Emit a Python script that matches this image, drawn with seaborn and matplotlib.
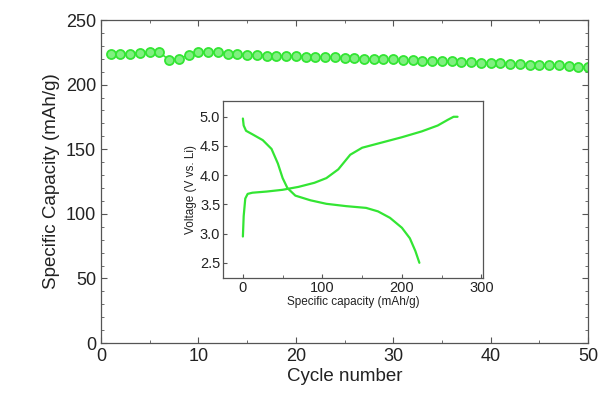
import numpy as np
import pandas as pd
import matplotlib
matplotlib.use("Agg")
import matplotlib.pyplot as plt
import seaborn as sns
from matplotlib.ticker import AutoMinorLocator

sns.set_theme(style="white")
plt.rcParams['font.family'] = ['Liberation Sans', 'DejaVu Sans']

cycles = list(range(1, 51))
capacity = [224, 224, 224, 224.5, 225, 225, 219, 220, 223, 225,
            225, 225, 224, 223.5, 223, 223, 222.5, 222.5, 222, 222,
            221.5, 221.5, 221, 221, 220.5, 220.5, 220, 220, 219.5, 219.5,
            219, 219, 218.5, 218.5, 218, 218, 217.5, 217.5, 217, 217,
            216.5, 216, 216, 215.5, 215.5, 215, 215, 214.5, 214, 213.5]

charge_cap = [0, 1, 3, 6, 12, 30, 50, 70, 90, 105, 120, 135, 150, 175, 200, 225, 245, 258, 265, 270]
charge_v = [2.95, 3.3, 3.6, 3.68, 3.7, 3.72, 3.75, 3.8, 3.87, 3.95, 4.1, 4.35, 4.47, 4.56, 4.65, 4.75, 4.85, 4.95, 5.0, 5.0]

dis_cap = [0, 1, 4, 12, 25, 36, 44, 50, 56, 66, 85, 105, 130, 155, 170, 185, 200, 210, 217, 222]
dis_v = [4.97, 4.85, 4.76, 4.7, 4.6, 4.45, 4.2, 3.95, 3.78, 3.65, 3.57, 3.51, 3.47, 3.44, 3.38, 3.27, 3.1, 2.92, 2.7, 2.5]

green = '#33e533'

fig = plt.figure(figsize=(6.07, 4.05), dpi=100)
ax = fig.add_axes([0.1664, 0.153, 0.8023, 0.7976])
df = pd.DataFrame({'cycle': cycles, 'cap': capacity})
sns.lineplot(data=df, x='cycle', y='cap', ax=ax, color=green, marker='o',
             markersize=6.5, markerfacecolor='#80f080', markeredgecolor=green,
             markeredgewidth=1.3, linewidth=1.2)
ax.set_xlim(0, 50)
ax.set_ylim(0, 250)
ax.set_xticks([0, 10, 20, 30, 40, 50])
ax.set_yticks([0, 50, 100, 150, 200, 250])
ax.xaxis.set_minor_locator(AutoMinorLocator(2))
ax.yaxis.set_minor_locator(AutoMinorLocator(5))
ax.tick_params(which='both', direction='in', bottom=True, left=True, top=True, right=True,
               color='#555555', labelsize=13, labelcolor='#222222')
ax.tick_params(which='major', length=4, width=0.8)
ax.tick_params(which='minor', length=2, width=0.6)
ax.set_xlabel('Cycle number', fontsize=13.5, color='#222222', labelpad=2)
ax.set_ylabel('Specific Capacity (mAh/g)', fontsize=13.5, color='#222222', labelpad=4)
for s in ax.spines.values():
    s.set_color('#555555')
    s.set_linewidth(0.9)

ins = fig.add_axes([0.3674, 0.3136, 0.4283, 0.437])
sns.lineplot(x=charge_cap, y=charge_v, ax=ins, color=green, linewidth=1.6, sort=False)
sns.lineplot(x=dis_cap, y=dis_v, ax=ins, color=green, linewidth=1.6, sort=False)
ins.set_xlim(-25, 302)
ins.set_ylim(2.24, 5.27)
ins.set_xticks([0, 100, 200, 300])
ins.set_yticks([2.5, 3.0, 3.5, 4.0, 4.5, 5.0])
ins.set_yticklabels(['2.5', '3.0', '3.5', '4.0', '4.5', '5.0'])
ins.xaxis.set_minor_locator(AutoMinorLocator(2))
ins.tick_params(which='both', direction='in', bottom=True, left=True, color='#555555',
                labelsize=10.5, labelcolor='#222222', pad=2)
ins.tick_params(which='major', length=3, width=0.8)
ins.tick_params(which='minor', length=2, width=0.6)
ins.set_xlabel('Specific capacity (mAh/g)', fontsize=8.5, color='#222222', labelpad=1)
ins.set_ylabel('Voltage (V vs. Li)', fontsize=8.5, color='#222222', labelpad=2)
for s in ins.spines.values():
    s.set_color('#555555')
    s.set_linewidth(0.9)

fig.savefig('out.png', dpi=100)
